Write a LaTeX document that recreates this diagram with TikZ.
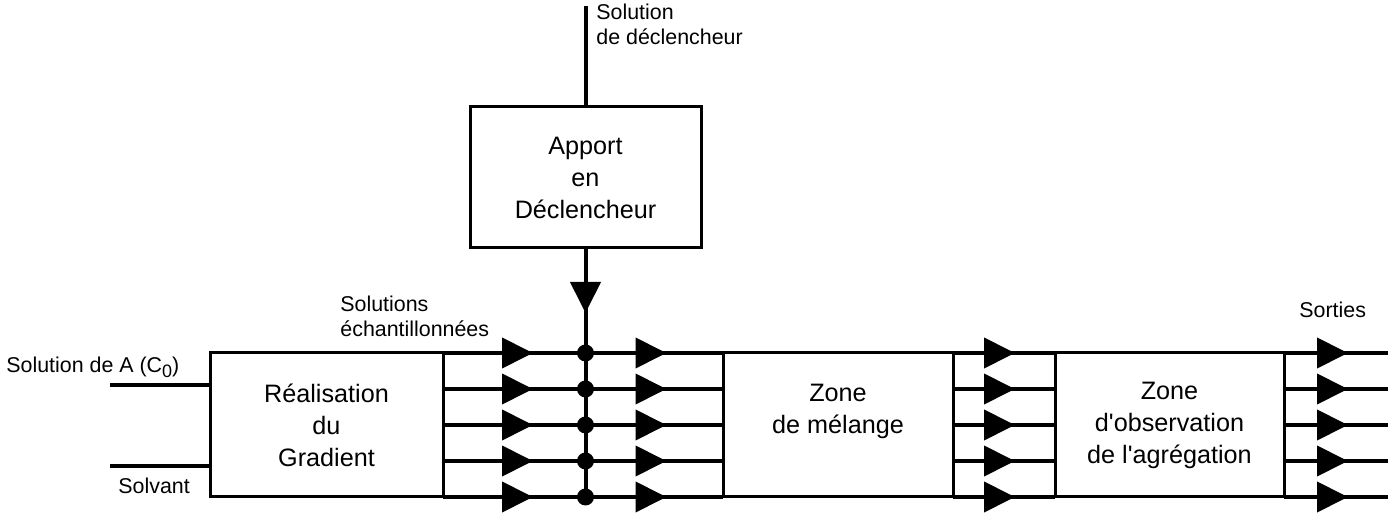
\documentclass[tikz,border=0pt]{standalone}
\usepackage{fontspec}
\setmainfont{Liberation Sans}
\usetikzlibrary{arrows.meta,calc,positioning}

\tikzset{
  bloc/.style={draw,line width=1.5pt,outer sep=0pt,inner sep=0pt,
    minimum width=#1,minimum height=72pt,align=center,
    font=\fontsize{12.6}{16}\selectfont},
  flux/.style={line width=2pt},
  pointe/.style={-{Triangle[length=15.5pt,width=15pt]}},
  etiq/.style={inner sep=0pt,align=left,font=\fontsize{10.7}{12.5}\selectfont},
  jonction/.style={circle,fill,inner sep=0pt,minimum size=8.5pt},
}
% canal: line from #1 to #2, arrow tip #3 units after #1
\newcommand{\canal}[3]{%
  \draw[flux] (#1) -- (#2);
  \draw[flux,pointe] (#1) -- ++(#3,0);}
\newcommand{\indice}[1]{\raisebox{-2.2pt}{\fontsize{9}{9}\selectfont #1}}

\begin{document}
\begin{tikzpicture}[x=0.5pt,y=-0.5pt]
  \useasboundingbox (0,0) rectangle (1394,513);
  % blocs
  \node[bloc=116.5pt] (grad) at (326.5,425) {Réalisation\\du\\Gradient};
  \node[bloc=115pt] (melange) at (838,425) {Zone\\de mélange\\\mbox{}};
  \node[bloc=114.5pt] (obs) at (1169.5,425) {Zone\\d\textquotesingle observation\\de l\textquotesingle agrégation};
  \node[bloc=115.5pt,minimum height=70.5pt] (trig) at (585.5,177.5) {Apport\\en\\Déclencheur};
  % entrees
  \coordinate (solA) at (110,385);
  \coordinate (solv) at (110,466);
  \draw[flux] (solA) -- (solA -| grad.west);
  \draw[flux] (solv) -- (solv -| grad.west);
  % canaux
  \foreach \i in {0,...,4} {
    \coordinate (g\i) at ($(grad.north east)!\i/4!(grad.south east)$);
    \coordinate (j\i) at (trig.south |- g\i);
    \coordinate (m\i) at (melange.west |- g\i);
    \coordinate (n\i) at (melange.east |- g\i);
    \coordinate (o\i) at (obs.west |- g\i);
    \coordinate (p\i) at (obs.east |- g\i);
    \coordinate (s\i) at ($(p\i)+(104,0)$);
    \canal{g\i}{j\i}{90}
    \canal{j\i}{m\i}{81}
    \canal{n\i}{o\i}{62}
    \canal{p\i}{s\i}{64}
  }
  % declencheur
  \coordinate (entree) at ($(trig.north)+(0,-101)$);
  \draw[flux] (entree) -- (trig.north);
  \draw[flux] (trig.south) -- (j4);
  \draw[flux,pointe] (trig.south) -- ++(0,65);
  \foreach \i in {0,...,4} \node[jonction] (jn\i) at (j\i) {};
  % etiquettes (base = last line)
  \node[etiq,anchor=base west] (lsolA) at (6,373) {Solution de A (C\indice{0})};
  \node[etiq,anchor=base west] (lsolv) at (118,494) {Solvant};
  \node[etiq,anchor=base west] (lech) at (340,337) {Solutions\\échantillonnées};
  \node[etiq,anchor=base west] (ldecl) at (596,45) {Solution\\de déclencheur};
  \node[etiq,anchor=base west] (lsort) at (1299,318) {Sorties};
\end{tikzpicture}
\end{document}
